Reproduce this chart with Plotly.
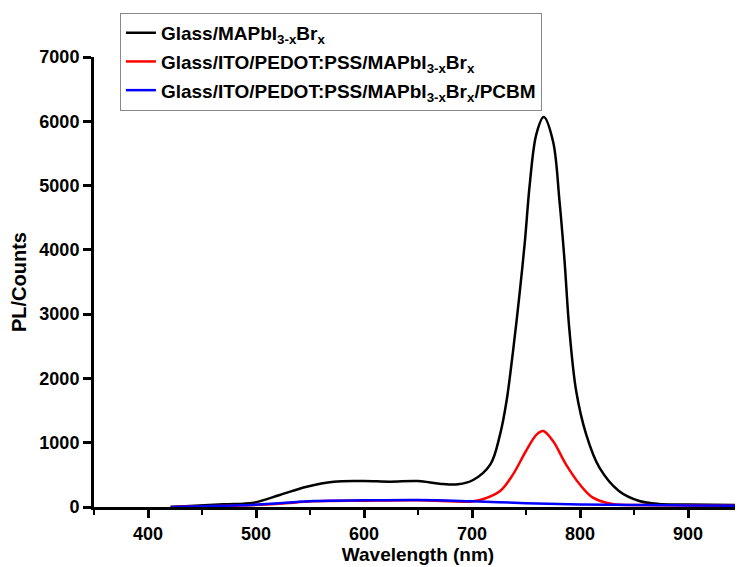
import plotly.graph_objects as go

# Glass/MAPbI3-xBrx
wl_black = [421, 470, 498, 522, 547, 572, 600, 624, 650, 670, 687, 701,
            717, 726, 732, 738, 744, 749, 753.5, 759.6, 766.4, 775, 781, 785.7, 790,
            796.5, 805.7, 818, 836, 855, 873, 900, 950]
pl_black = [0, 41, 67, 187, 316, 394, 404, 394, 404, 363, 353, 420,
            664, 1130, 1648, 2426, 3312, 4137, 5023, 5800, 6065, 5690, 4760, 3826, 2790,
            1800, 1130, 611, 249, 93, 47, 40, 30]

# Glass/ITO/PEDOT:PSS/MAPbI3-xBrx
wl_red = [421, 485, 522, 553, 600, 650, 700, 710, 726, 738, 750, 760, 766,
          775, 787, 799.5, 812, 830, 860, 900, 950]
pl_red = [0, 22, 52, 88, 98, 104, 86, 120, 249, 508, 871, 1130, 1182,
          1026, 664, 358, 145, 47, 30, 25, 20]

# Glass/ITO/PEDOT:PSS/MAPbI3-xBrx/PCBM
wl_blue = [421, 485, 522, 553, 600, 650, 700, 750, 800, 850, 900, 950]
pl_blue = [0, 26, 57, 93, 104, 109, 88, 60, 40, 30, 25, 20]

names = [
    "Glass/MAPbI<sub>3-x</sub>Br<sub>x</sub>",
    "Glass/ITO/PEDOT:PSS/MAPbI<sub>3-x</sub>Br<sub>x</sub>",
    "Glass/ITO/PEDOT:PSS/MAPbI<sub>3-x</sub>Br<sub>x</sub>/PCBM",
]

fig = go.Figure()
for i, (x, y, color) in enumerate([(wl_black, pl_black, "black"),
                                   (wl_red, pl_red, "#ff0000"),
                                   (wl_blue, pl_blue, "#0000ff")]):
    fig.add_trace(go.Scatter(
        x=x, y=y, name=names[i], mode="lines", legendgroup=f"g{i}",
        line=dict(color=color, width=2.5, shape="spline", smoothing=1.0)
    ))

# the page body has an 8px margin, so the figure is 8px smaller than the window
fig.update_layout(
    width=735, height=559,
    margin=dict(l=86, r=1, t=49, b=60),
    plot_bgcolor="white", paper_bgcolor="white",
    font=dict(family="Liberation Sans, Arial", size=18, color="black", weight="bold"),
    showlegend=True,
    legend=dict(
        x=0.04, y=1.098, xanchor="left", yanchor="top",
        bgcolor="white", bordercolor="#888888", borderwidth=1,
        traceorder="grouped", tracegroupgap=1,
        font=dict(size=19, weight="bold"),
    ),
)

fig.update_xaxes(
    range=[350, 950], dtick=100, tick0=400,
    showline=True, linecolor="black", linewidth=3,
    ticks="outside", ticklen=8, tickwidth=2.5, tickcolor="black",
    minor=dict(ticks="outside", ticklen=5, tickwidth=2, tickcolor="black", dtick=50, tick0=350),
    showgrid=False, zeroline=False,
    title=dict(text="Wavelength (nm)", font=dict(size=19, weight="bold"), standoff=6),
)
fig.update_yaxes(
    range=[0, 7000], dtick=1000,
    showline=True, linecolor="black", linewidth=3,
    ticks="outside", ticklen=8, tickwidth=2.5, tickcolor="black",
    showgrid=False, zeroline=False,
    title=dict(text="PL/Counts", font=dict(size=20, weight="bold"), standoff=10),
)

fig.write_html("out.html")
